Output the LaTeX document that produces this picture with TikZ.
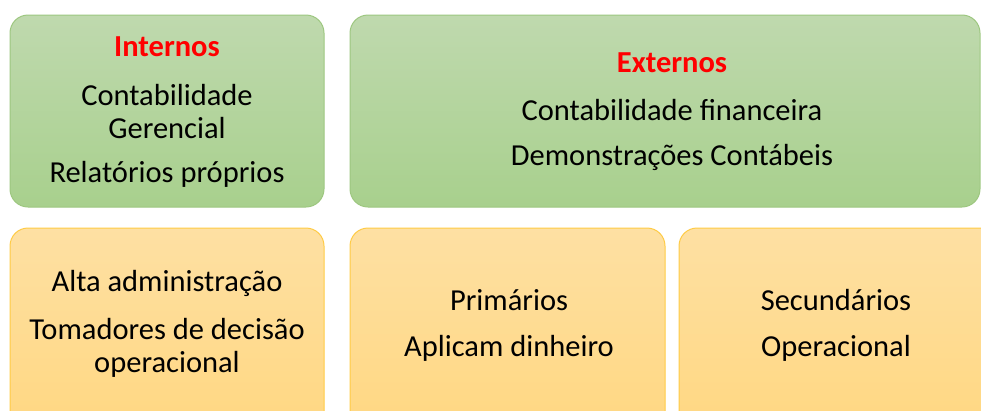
\documentclass[tikz,border=0pt]{standalone}
\usepackage{fontspec}
\setmainfont{Carlito}
\definecolor{greentop}{HTML}{BFD9AE}
\definecolor{greenbot}{HTML}{A8D08D}
\definecolor{greenline}{HTML}{9DC780}
\definecolor{orangetop}{HTML}{FEE0A3}
\definecolor{orangebot}{HTML}{FFD780}
\definecolor{orangeline}{HTML}{FFCB45}
\tikzstyle{greenbox}=[draw=greenline,line width=1pt,top color=greentop,bottom color=greenbot,rounded corners=18pt,inner sep=0pt]
\tikzstyle{orangebox}=[draw=orangeline,line width=1pt,top color=orangetop,bottom color=orangebot,rounded corners=18pt,inner sep=0pt]
\tikzstyle{boxtext}=[inner sep=0pt,align=center,font=\fontsize{30.5}{33}\selectfont]
\tikzstyle{headtext}=[boxtext,text=red,font=\fontsize{30.5}{33}\selectfont\bfseries]

\begin{document}
\begin{tikzpicture}[x=1pt,y=-1pt]
	\useasboundingbox (0,0) rectangle (981,410);
	\clip (0,0) rectangle (981,410);
	% top row
	\node[greenbox,minimum width=314pt,minimum height=192pt] (internos) at (167,111) {};
	\node[greenbox,minimum width=630pt,minimum height=192pt] (externos) at (665,111) {};
	% bottom row
	\node[orangebox,minimum width=314pt,minimum height=212pt] (gestores) at (167,334) {};
	\node[orangebox,minimum width=315pt,minimum height=212pt] (primarios) at (507.5,334) {};
	\node[orangebox,minimum width=320pt,minimum height=212pt] (secundarios) at (839,334) {};
	% texts
	\node[headtext] (tInt) at (167,47) {Internos};
	\node[boxtext] (tInt1) at (167,111.5) {Contabilidade\\Gerencial};
	\node[boxtext] (tInt2) at (167,174) {Relatórios próprios};
	\node[headtext] (tExt) at (672,63) {Externos};
	\node[boxtext] (tExt1) at (672,110) {Contabilidade financeira};
	\node[boxtext] (tExt2) at (672,157) {Demonstrações Contábeis};
	\node[boxtext] (tGes1) at (167,283) {Alta administração};
	\node[boxtext] (tGes2) at (167,347.5) {Tomadores de decisão\\operacional};
	\node[boxtext] (tPri1) at (509,300) {Primários};
	\node[boxtext] (tPri2) at (509,348) {Aplicam dinheiro};
	\node[boxtext] (tSec1) at (836,300) {Secundários};
	\node[boxtext] (tSec2) at (836,348) {Operacional};
\end{tikzpicture}
\end{document}
